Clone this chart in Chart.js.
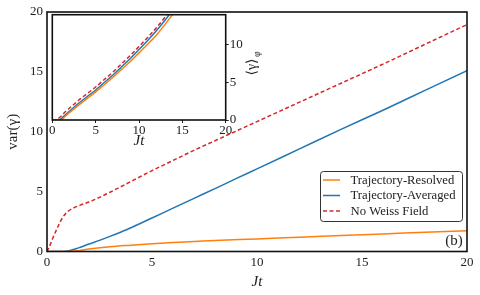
<!DOCTYPE html>
<html><head><meta charset="utf-8">
<script src="https://cdn.jsdelivr.net/npm/chart.js@4/dist/chart.umd.min.js"></script>
<style>
html,body{margin:0;padding:0;background:#fff;}
#wrap{position:relative;width:480px;height:295px;overflow:hidden;}
#main,#inset{position:absolute;left:0;top:0;}
</style></head><body>
<div id="wrap"><canvas id="main" width="480" height="295"></canvas><canvas id="inset" width="270" height="152"></canvas></div>
<script>
const FONT = "'Liberation Serif', 'DejaVu Serif', serif";
const TXT = '#222';

const seriesLabels = ['Trajectory-Resolved', 'Trajectory-Averaged', 'No Weiss Field'];
const seriesColors = ['#ff7f0e', '#1f77b4', '#d62728'];

const mainXTicks = [0, 5, 10, 15, 20];
const mainYTicks = [0, 5, 10, 15, 20];
const insetXTicks = [0, 5, 10, 15, 20];
const insetYTicks = [0, 5, 10];

// main panel: var(gamma) vs Jt
const resolvedT   = [0, 1, 1.5, 2, 3, 4, 5, 6, 7, 8, 10, 12, 14, 16, 18, 20];
const resolvedVar = [0, 0, 0.07, 0.2, 0.4, 0.53, 0.65, 0.75, 0.83, 0.92, 1.05, 1.2, 1.33, 1.47, 1.6, 1.74];

const averagedT   = [0, 0.5, 1, 1.5, 2, 2.5, 3, 3.5, 4, 5, 6, 7, 8, 9, 10, 12, 14, 16, 18, 20];
const averagedVar = [0, 0, 0.05, 0.3, 0.62, 0.93, 1.26, 1.61, 1.98, 2.8, 3.62, 4.44, 5.25, 6.08, 6.9, 8.55, 10.2, 11.8, 13.45, 15.1];

const noWeissT   = [0, 0.1, 0.25, 0.5, 0.75, 1, 1.25, 1.5, 2, 2.5, 3, 4, 5, 6, 7, 8, 10, 12, 14, 16, 18, 20];
const noWeissVar = [0, 0.35, 1.0, 2.0, 2.85, 3.35, 3.62, 3.82, 4.13, 4.52, 4.95, 5.85, 6.75, 7.6, 8.45, 9.25, 10.85, 12.45, 14.05, 15.65, 17.3, 18.95];

// inset: <gamma>_phi vs Jt
const insetT         = [0, 0.5, 1, 1.5, 2, 3, 4, 5, 6, 7, 8, 9, 10, 11, 12, 13, 14];
const insetResolved  = [0, 0, 0, 0.5, 1.0, 1.95, 2.85, 3.75, 4.7, 5.7, 6.75, 7.8, 8.95, 10.1, 11.3, 12.75, 14.25];
const insetAveraged  = [0, 0, 0.15, 0.7, 1.2, 2.2, 3.1, 4.0, 5.0, 6.0, 7.1, 8.2, 9.4, 10.6, 11.9, 13.3, 14.8];
const insetNoWeiss   = [0, 0.1, 0.5, 1.1, 1.6, 2.6, 3.5, 4.4, 5.4, 6.4, 7.5, 8.6, 9.8, 11.0, 12.3, 13.7, 15.2];

const pts = (xs, ys) => xs.map((x, i) => ({x, y: ys[i]}));

function ds(i, data) {
  return {
    label: seriesLabels[i], data, borderColor: seriesColors[i], backgroundColor: seriesColors[i],
    borderWidth: 1.5, pointRadius: 0, fill: false, cubicInterpolationMode: 'monotone',
    borderDash: i === 2 ? [4, 2.5] : []
  };
}

const framePlugin = {
  id: 'frame',
  beforeDraw(chart, args, opts) {
    if (opts.fill) {
      const a = chart.chartArea, c = chart.ctx;
      c.save(); c.fillStyle = '#fff'; c.fillRect(a.left, a.top, a.right - a.left, a.bottom - a.top); c.restore();
    }
  },
  afterDraw(chart) {
    const a = chart.chartArea, c = chart.ctx;
    c.save(); c.strokeStyle = '#111'; c.lineWidth = 1.6;
    c.strokeRect(a.left, a.top, a.right - a.left, a.bottom - a.top); c.restore();
  }
};

const legendPlugin = {
  id: 'boxlegend',
  afterDraw(chart) {
    const c = chart.ctx;
    const x0 = 320, y0 = 171, w = 142, h = 50, r = 3;
    c.save();
    c.fillStyle = 'rgba(255,255,255,0.9)'; c.strokeStyle = '#333'; c.lineWidth = 1;
    c.beginPath(); c.roundRect(x0 + 0.5, y0 + 0.5, w, h, r); c.fill(); c.stroke();
    const rows = [180, 195.5, 211];
    c.font = '12.7px ' + FONT; c.textBaseline = 'middle'; c.textAlign = 'left';
    chart.data.datasets.forEach((d, i) => {
      c.strokeStyle = d.borderColor; c.lineWidth = 1.5; c.setLineDash(d.borderDash || []);
      c.beginPath(); c.moveTo(323, rows[i]); c.lineTo(340, rows[i]); c.stroke();
      c.setLineDash([]);
      c.fillStyle = TXT; c.fillText(d.label, 350.5, rows[i] + 0.5);
    });
    c.font = '15px ' + FONT; c.textAlign = 'center';
    c.fillText('(b)', 454, 241);
    c.restore();
  }
};

new Chart(document.getElementById('main'), {
  type: 'line',
  data: { datasets: [
    ds(0, pts(resolvedT, resolvedVar)),
    ds(1, pts(averagedT, averagedVar)),
    ds(2, pts(noWeissT, noWeissVar))
  ]},
  options: {
    responsive: false, animation: false, devicePixelRatio: 1,
    layout: { padding: { top: 12, right: 13, left: 0, bottom: 0 } },
    plugins: { legend: { display: false }, tooltip: { enabled: false }, frame: { fill: false } },
    scales: {
      x: {
        type: 'linear', min: 0, max: 20,
        afterBuildTicks: s => { s.ticks = mainXTicks.map(v => ({value: v})); },
        grid: { display: false, drawTicks: false }, border: { display: false },
        ticks: { font: { family: FONT, size: 13 }, color: TXT, padding: 3, maxRotation: 0 },
        title: { display: true, text: 'Jt', font: { family: FONT, size: 15, style: 'italic' }, color: TXT, padding: { top: 0, bottom: 4 } },
        afterFit: s => { s.height = 43.5; }
      },
      y: {
        type: 'linear', min: 0, max: 20,
        afterBuildTicks: s => { s.ticks = mainYTicks.map(v => ({value: v})); },
        grid: { display: false, drawTicks: false }, border: { display: false },
        ticks: { font: { family: FONT, size: 13 }, color: TXT, padding: 4 },
        title: { display: true, text: 'var(γ)', font: { family: FONT, size: 15 }, color: TXT, padding: { top: 4, bottom: 0 } },
        afterFit: s => { s.width = 47; }
      }
    }
  },
  plugins: [framePlugin, legendPlugin]
});

const insetLabelPlugin = {
  id: 'insetLabel',
  afterDraw(chart) {
    const c = chart.ctx;
    c.save(); c.translate(252, 67); c.rotate(-Math.PI / 2);
    c.fillStyle = TXT; c.textBaseline = 'middle'; c.textAlign = 'center';
    c.font = '14px ' + FONT; c.fillText('⟨γ⟩', 0, 0);
    c.font = '10px ' + FONT; c.textAlign = 'left'; c.fillText('φ', 10, 5);
    c.restore();
  }
};

new Chart(document.getElementById('inset'), {
  type: 'line',
  data: { datasets: [
    ds(0, pts(insetT, insetResolved)),
    ds(1, pts(insetT, insetAveraged)),
    ds(2, pts(insetT, insetNoWeiss))
  ]},
  options: {
    responsive: false, animation: false, devicePixelRatio: 1,
    layout: { padding: { top: 14.7, right: 0, left: 52.3, bottom: 0 } },
    plugins: { legend: { display: false }, tooltip: { enabled: false }, frame: { fill: true } },
    scales: {
      x: {
        type: 'linear', min: 0, max: 20,
        afterBuildTicks: s => { s.ticks = insetXTicks.map(v => ({value: v})); },
        grid: { display: true, drawOnChartArea: false, drawTicks: true, tickLength: 3, color: '#222' }, border: { display: false },
        ticks: { font: { family: FONT, size: 13 }, color: TXT, padding: 0, maxRotation: 0 },
        title: { display: true, text: 'Jt', font: { family: FONT, size: 15, style: 'italic' }, color: TXT, padding: { top: 0, bottom: 2 } },
        afterFit: s => { s.height = 32; }
      },
      y: {
        type: 'linear', position: 'right', min: 0, max: 14.04,
        afterBuildTicks: s => { s.ticks = insetYTicks.map(v => ({value: v})); },
        grid: { display: true, drawOnChartArea: false, drawTicks: true, tickLength: 3, color: '#222' }, border: { display: false },
        ticks: { font: { family: FONT, size: 13 }, color: TXT, padding: 1 },
        afterFit: s => { s.width = 44.3; }
      }
    }
  },
  plugins: [framePlugin, insetLabelPlugin]
});
</script>
</body></html>
